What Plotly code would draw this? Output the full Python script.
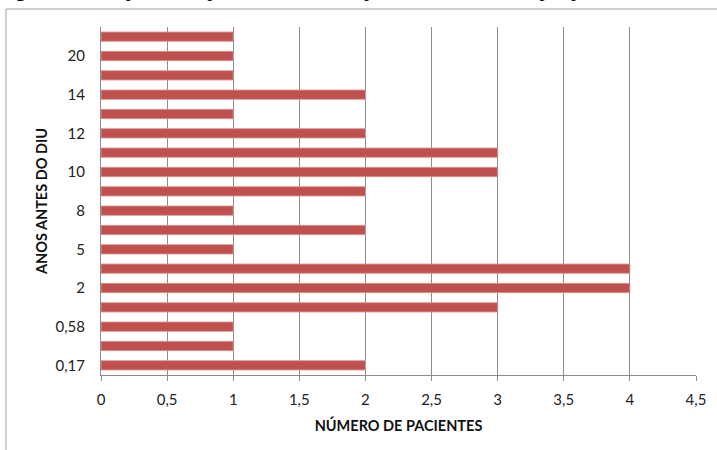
import plotly.graph_objects as go

# Years of prior use before the IUD (category axis, bottom to top)
anos = ["0,17", "0,33", "0,58", "1", "2", "3", "5", "6", "8", "9",
        "10", "11", "12", "13", "14", "15", "20", "25"]
# Number of patients per category
pacientes = [2, 1, 1, 3, 4, 4, 1, 2, 1, 2, 3, 3, 2, 1, 2, 1, 1, 1]
# Only every other category label is printed on the axis
rotulos = anos[::2]
x_ticks = [0, 0.5, 1, 1.5, 2, 2.5, 3, 3.5, 4, 4.5]
x_labels = ["0", "0,5", "1", "1,5", "2", "2,5", "3", "3,5", "4", "4,5"]

W, H = 717, 450
L, R, T, B = 101, 21, 27, 75
pw, ph = W - L - R, H - T - B

fig = go.Figure(go.Bar(
    x=pacientes, y=anos, orientation="h",
    marker=dict(color="#C0504D", line=dict(color="rgba(215,150,148,0.9)", width=1)),
))

font = "Lato, 'Open Sans', sans-serif"
fig.update_layout(
    width=W, height=H,
    margin=dict(l=L, r=R, t=T, b=B),
    paper_bgcolor="white", plot_bgcolor="white",
    bargap=0.52, showlegend=False,
    font=dict(family=font, size=15, color="#222"),
    xaxis=dict(
        range=[0, 4.5], tickvals=x_ticks, ticktext=x_labels,
        showgrid=True, gridcolor="#8c8c8c", gridwidth=1,
        showline=True, linecolor="#8c8c8c", linewidth=1,
        ticks="outside", ticklen=5, tickcolor="#8c8c8c",
        ticklabelstandoff=6,
        zeroline=False, tickfont=dict(size=15),
        title=dict(text="<b>NÚMERO DE PACIENTES</b>", font=dict(size=14.5, color="#111"), standoff=13),
    ),
    yaxis=dict(
        type="category", categoryorder="array", categoryarray=anos,
        tickvals=rotulos, ticktext=rotulos,
        showgrid=False, showline=True, linecolor="#8c8c8c", linewidth=1,
        ticks="", ticklen=0, tickfont=dict(size=15),
        ticklabelstandoff=12,
        title=dict(text="<b>ANOS ANTES DO DIU</b>", font=dict(size=14.5, color="#111"), standoff=4),
    ),
    shapes=[
        # Outer chart frame (extends past the right and bottom edges)
        dict(type="rect", xref="paper", yref="paper",
             x0=(6 - L) / pw, x1=(W + 10 - L) / pw,
             y0=-(B + 10) / ph, y1=1 + (T - 9) / ph,
             line=dict(color="#a0a0a0", width=1), fillcolor="rgba(0,0,0,0)", layer="below"),
    ],
    annotations=[
        dict(text="<b>Figura 2</b> – Tempo de uso prévio de anticoncepcional antes do DIU por paciente",
             xref="paper", yref="paper", x=(-4 - L) / pw, y=1 + (T - 3) / ph,
             xanchor="left", yanchor="bottom", showarrow=False,
             font=dict(family="'Liberation Serif', serif", size=20, color="#000")),
    ],
)

fig.write_html("out.html")
